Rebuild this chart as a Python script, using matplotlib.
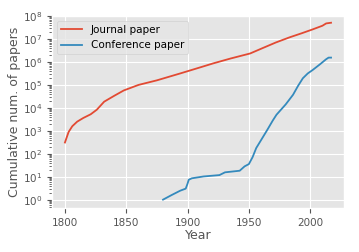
import numpy as np
import matplotlib
matplotlib.use("Agg")
import matplotlib.pyplot as plt

plt.style.use("ggplot")

# values (log10 of cumulative count)
journal_years = [1800, 1803, 1806, 1810, 1815, 1821, 1826, 1832, 1840, 1848, 1860, 1875,
                 1894, 1910, 1921, 1935, 1943, 1951, 1961, 1972, 1983, 1993, 2002, 2010, 2013, 2017]
journal_log = [2.49, 2.95, 3.2, 3.4, 3.56, 3.72, 3.92, 4.27, 4.52, 4.76, 5.0, 5.2,
               5.5, 5.76, 5.94, 6.15, 6.26, 6.37, 6.6, 6.85, 7.07, 7.25, 7.42, 7.58, 7.68, 7.71]

conf_years = [1880, 1887, 1894, 1898.5, 1900, 1901, 1903.5, 1913, 1926, 1930.5, 1942.5, 1946.5,
              1950, 1953, 1956, 1960, 1965, 1969.5, 1972.5, 1980, 1986, 1990, 1994, 1998,
              2002, 2008, 2013, 2015, 2017]
conf_log = [0.0, 0.2, 0.39, 0.48, 0.7, 0.87, 0.93, 1.01, 1.07, 1.19, 1.26, 1.45,
            1.55, 1.85, 2.25, 2.6, 3.04, 3.45, 3.7, 4.15, 4.57, 4.95, 5.29, 5.5,
            5.65, 5.9, 6.12, 6.19, 6.19]

fig = plt.figure(figsize=(3.59, 2.52), dpi=100)
ax = fig.add_axes([0.145, 0.175, 0.813, 0.763])

ax.plot(journal_years, 10 ** np.array(journal_log), label="Journal paper", lw=1.3)
ax.plot(conf_years, 10 ** np.array(conf_log), label="Conference paper", lw=1.3)

ax.set_yscale("log")
ax.set_ylim(10 ** -0.36, 10 ** 8.02)
ax.set_xlim(1789.5, 2027.5)
ax.set_xticks([1800, 1850, 1900, 1950, 2000])
ax.set_yticks([10.0 ** k for k in range(0, 9)])
ax.tick_params(labelsize=7.5)
ax.tick_params(axis="y", which="minor", length=2)
ax.set_xlabel("Year", fontsize=9, labelpad=1)
ax.set_ylabel("Cumulative num. of papers", fontsize=9, labelpad=1)
ax.legend(loc="upper left", fontsize=7.5)

fig.savefig("out.png", dpi=100)
